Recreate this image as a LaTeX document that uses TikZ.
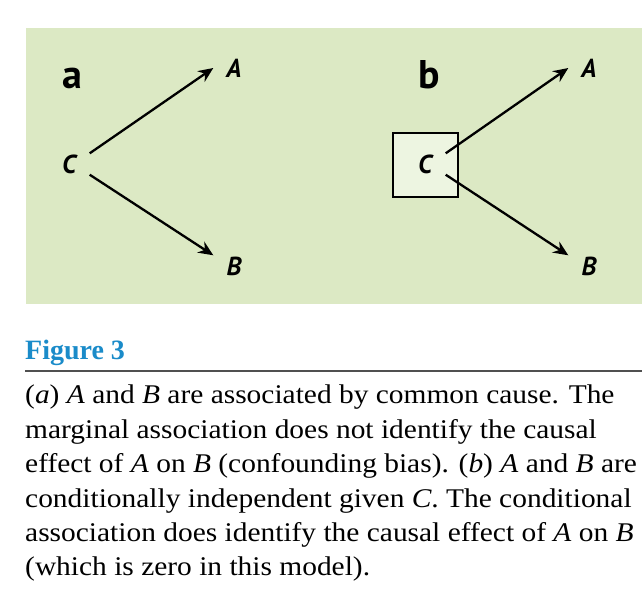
\documentclass[tikz,border=0pt]{standalone}
\usepackage{fontspec}
\setmainfont{Liberation Serif}
\newfontfamily\captionfont{Liberation Serif}[FakeStretch=1.09]
\newfontfamily\labelfont{PT Sans}
\usetikzlibrary{arrows.meta,positioning}
\definecolor{panelgreen}{HTML}{DCE9C4}
\definecolor{boxgreen}{HTML}{EDF5E1}
\definecolor{figblue}{HTML}{1A8BC9}
\definecolor{rulegray}{HTML}{505050}

\begin{document}
\begin{tikzpicture}[x=1pt, y=-1pt]
    \useasboundingbox (0,0) rectangle (642,598);
    % Styles for the two panels
    \tikzstyle{letter}  = [font=\labelfont\bfseries\fontsize{40}{40}\selectfont, inner sep=0, anchor=base west]
    \tikzstyle{var}     = [font=\labelfont\bfseries\itshape\fontsize{26}{26}\selectfont, inner sep=0, minimum width=41pt, minimum height=21pt]
    \tikzstyle{condbox} = [rectangle, draw=black, line width=2pt, fill=boxgreen, minimum width=65pt, minimum height=64pt]
    \tikzstyle{arrow}   = [line width=2.3pt, -{Stealth[length=15pt, width=13pt, inset=5pt]}]

    % Background of the figure
    \fill[panelgreen] (25.5,27.7) rectangle (642,304);

    % Panel a
    \node[letter] (la) at (62,88) {a};
    \node[var] (Ca) at (69,164) {C};
    \node[var] (Aa) at (234,68) {A};
    \node[var] (Ba) at (234,266) {B};

    % Panel b
    \node[letter] (lb) at (418,88) {b};
    \node[condbox] (box) at (425.5,164.5) {};
    \node[var] (Cb) at (425,164) {C};
    \node[var] (Ab) at (589,68) {A};
    \node[var] (Bb) at (589,266) {B};

    \draw[arrow] (Ca.north east) -- (Aa.west);
    \draw[arrow] (Ca.south east) -- (Ba.north west);
    \draw[arrow] (Cb.north east) -- (Ab.west);
    \draw[arrow] (Cb.south east) -- (Bb.north west);

    % Caption
    \node[anchor=base west, inner sep=0, font=\bfseries\fontsize{28}{28}\selectfont, text=figblue] (title) at (25,359) {Figure 3};
    \draw[rulegray, line width=1.5pt] (25,371) -- (642,371);
    \node[anchor=north west, inner sep=0, align=left, font=\captionfont\fontsize{27}{34.4}\selectfont] (caption) at (25,385) {(\textit{a}) \textit{A} and \textit{B} are associated by common cause. The\\
        marginal association does not identify the causal\\
        effect of \textit{A} on \textit{B} (confounding bias). (\textit{b}) \textit{A} and \textit{B} are\\
        conditionally independent given \textit{C}. The conditional\\
        association does identify the causal effect of \textit{A} on \textit{B}\\
        (which is zero in this model).};
\end{tikzpicture}
\end{document}
